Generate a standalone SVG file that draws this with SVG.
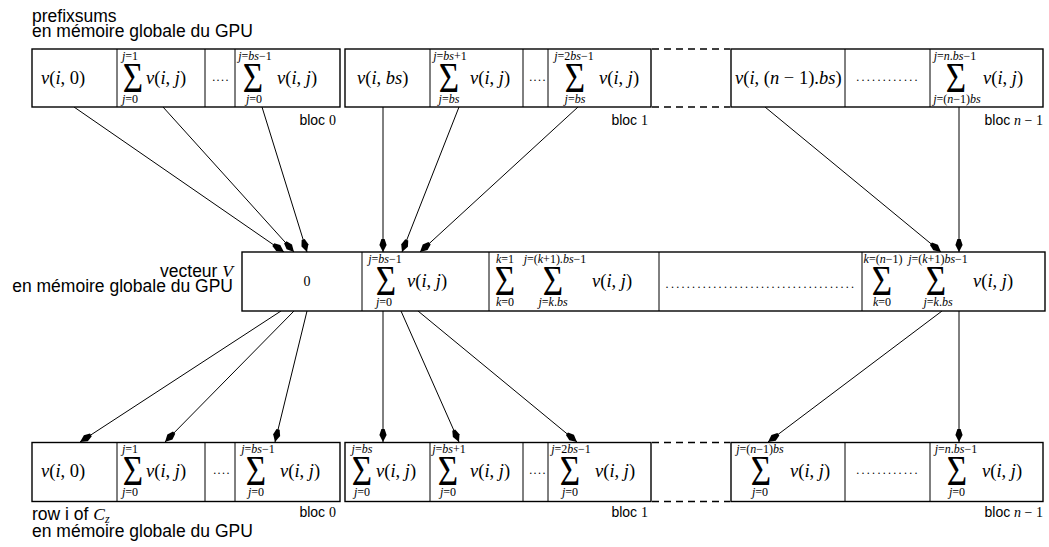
<svg xmlns="http://www.w3.org/2000/svg" width="1049" height="547" viewBox="0 0 1049 547">
<style>
.box{fill:#fff;stroke:#000;stroke-width:1.4}
.dv{stroke:#000;stroke-width:1;fill:none}
.dash{stroke:#000;stroke-width:1.4;stroke-dasharray:7 5;fill:none}
.lbl{font-family:"Liberation Sans",Arial,sans-serif;font-size:17.5px}
.blc{font-family:"Liberation Sans",Arial,sans-serif;font-size:14px;text-anchor:end}
.sf{font-family:"Liberation Serif","Times New Roman",serif}
.m{font-family:"Liberation Serif","Times New Roman",serif;font-size:18.5px}
.lim{font-family:"Liberation Serif","Times New Roman",serif;font-size:12px;text-anchor:middle}
.sig{font-family:"Liberation Serif","Times New Roman",serif;font-size:38px;text-anchor:middle}
.dots{font-family:"Liberation Serif","Times New Roman",serif;font-size:12px;text-anchor:middle;letter-spacing:2.3px}
.i{font-style:italic}
.con{stroke:#000;stroke-width:1;fill:none;marker-end:url(#ah)}
</style>
<defs>
<marker id="ah" markerUnits="userSpaceOnUse" viewBox="-14 -5 14 10" refX="0" refY="0" markerWidth="14" markerHeight="10" orient="auto">
<path d="M0,0 L-7,-3.6 L-13,-1.6 L-13,1.6 L-7,3.6 Z" fill="#000"/>
</marker>
</defs>

<g id="labels">
<text class="lbl" x="32" y="22">prefixsums</text>
<text class="lbl" x="32" y="37">en mémoire globale du GPU</text>
<text class="lbl" x="233" y="277" text-anchor="end">vecteur <tspan class="sf i">V</tspan></text>
<text class="lbl" x="233" y="292" text-anchor="end">en mémoire globale du GPU</text>
<text class="lbl" x="32" y="520">row i of <tspan class="sf i">C</tspan><tspan class="sf i" font-size="12" dy="3">z</tspan></text>
<text class="lbl" x="32" y="537">en mémoire globale du GPU</text>
<text class="blc" x="336" y="125">bloc <tspan class="sf">0</tspan></text>
<text class="blc" x="648" y="125">bloc <tspan class="sf">1</tspan></text>
<text class="blc" x="1043" y="125">bloc <tspan class="sf i">n</tspan><tspan class="sf"> − 1</tspan></text>
<text class="blc" x="336" y="517">bloc <tspan class="sf">0</tspan></text>
<text class="blc" x="648" y="517">bloc <tspan class="sf">1</tspan></text>
<text class="blc" x="1043" y="517">bloc <tspan class="sf i">n</tspan><tspan class="sf"> − 1</tspan></text>
</g>

<g id="connectors">
<line class="con" x1="74" y1="107" x2="284" y2="252"/>
<line class="con" x1="163" y1="107" x2="294" y2="252"/>
<line class="con" x1="262" y1="107" x2="307" y2="252"/>
<line class="con" x1="383" y1="107" x2="383" y2="252"/>
<line class="con" x1="459" y1="107" x2="402" y2="252"/>
<line class="con" x1="578" y1="107" x2="420" y2="252"/>
<line class="con" x1="765" y1="107" x2="941" y2="252"/>
<line class="con" x1="959" y1="107" x2="959" y2="252"/>
<line class="con" x1="281" y1="311" x2="80" y2="442"/>
<line class="con" x1="294" y1="311" x2="165" y2="442"/>
<line class="con" x1="307" y1="311" x2="275" y2="442"/>
<line class="con" x1="383" y1="311" x2="383" y2="442"/>
<line class="con" x1="401" y1="311" x2="459" y2="442"/>
<line class="con" x1="418" y1="311" x2="577" y2="442"/>
<line class="con" x1="942" y1="311" x2="768" y2="442"/>
<line class="con" x1="959" y1="311" x2="959" y2="442"/>
</g>

<g id="dashes">
<line class="dash" x1="652" y1="49" x2="730" y2="49"/>
<line class="dash" x1="652" y1="107" x2="730" y2="107"/>
<line class="dash" x1="652" y1="442.5" x2="730" y2="442.5"/>
<line class="dash" x1="652" y1="501.5" x2="730" y2="501.5"/>
</g>

<g id="top-bloc0">
<rect class="box" x="32" y="49" width="308" height="58"/>
<path class="dv" d="M117,49V107M205,49V107M235,49V107"/>
<text class="m" x="41" y="84"><tspan class="i">v</tspan>(<tspan class="i">i</tspan>, 0)</text>
<text class="lim" x="130" y="60"><tspan class="i">j</tspan>=1</text>
<text class="sig" transform="translate(133,92) scale(.92,1.1)">Σ</text>
<text class="lim" x="130" y="103"><tspan class="i">j</tspan>=0</text>
<text class="m" x="146" y="84"><tspan class="i">v</tspan>(<tspan class="i">i</tspan>, <tspan class="i">j</tspan>)</text>
<text class="dots" x="221" y="81" style="letter-spacing:1.4px">....</text>
<text class="lim" x="255" y="60"><tspan class="i">j</tspan>=<tspan class="i">bs</tspan>−1</text>
<text class="sig" transform="translate(253,92) scale(.92,1.1)">Σ</text>
<text class="lim" x="254" y="103"><tspan class="i">j</tspan>=0</text>
<text class="m" x="277" y="84"><tspan class="i">v</tspan>(<tspan class="i">i</tspan>, <tspan class="i">j</tspan>)</text>
</g>

<g id="top-bloc1">
<rect class="box" x="345" y="49" width="306" height="58"/>
<path class="dv" d="M430,49V107M523,49V107M548,49V107"/>
<text class="m" x="357" y="84"><tspan class="i">v</tspan>(<tspan class="i">i</tspan>, <tspan class="i">bs</tspan>)</text>
<text class="lim" x="450" y="60"><tspan class="i">j</tspan>=<tspan class="i">bs</tspan>+1</text>
<text class="sig" transform="translate(449,92) scale(.92,1.1)">Σ</text>
<text class="lim" x="449" y="103"><tspan class="i">j</tspan>=<tspan class="i">bs</tspan></text>
<text class="m" x="470" y="84"><tspan class="i">v</tspan>(<tspan class="i">i</tspan>, <tspan class="i">j</tspan>)</text>
<text class="dots" x="538" y="81" style="letter-spacing:1.4px">....</text>
<text class="lim" x="574" y="60"><tspan class="i">j</tspan>=2<tspan class="i">bs</tspan>−1</text>
<text class="sig" transform="translate(575,92) scale(.92,1.1)">Σ</text>
<text class="lim" x="575" y="103"><tspan class="i">j</tspan>=<tspan class="i">bs</tspan></text>
<text class="m" x="599" y="84"><tspan class="i">v</tspan>(<tspan class="i">i</tspan>, <tspan class="i">j</tspan>)</text>
</g>

<g id="top-bloc-n1">
<rect class="box" x="731" y="49" width="312" height="58"/>
<path class="dv" d="M845,49V107M930,49V107"/>
<text class="m" x="735" y="84"><tspan class="i">v</tspan>(<tspan class="i">i</tspan>, (<tspan class="i">n</tspan> − 1).<tspan class="i">bs</tspan>)</text>
<text class="dots" x="888" y="81">............</text>
<text class="lim" x="955" y="60"><tspan class="i">j</tspan>=<tspan class="i">n</tspan>.<tspan class="i">bs</tspan>−1</text>
<text class="sig" transform="translate(956,92) scale(.92,1.1)">Σ</text>
<text class="lim" x="957" y="103"><tspan class="i">j</tspan>=(<tspan class="i">n</tspan>−1)<tspan class="i">bs</tspan></text>
<text class="m" x="983" y="84"><tspan class="i">v</tspan>(<tspan class="i">i</tspan>, <tspan class="i">j</tspan>)</text>
</g>

<g id="vecteur-V">
<rect class="box" x="242" y="252" width="803" height="59"/>
<path class="dv" d="M362,252V311M489,252V311M659,252V311M862,252V311"/>
<text class="sf" x="307" y="286" font-size="14" text-anchor="middle">0</text>
<text class="lim" x="385" y="263"><tspan class="i">j</tspan>=<tspan class="i">bs</tspan>−1</text>
<text class="sig" transform="translate(386,295) scale(.92,1.1)">Σ</text>
<text class="lim" x="384" y="306"><tspan class="i">j</tspan>=0</text>
<text class="m" x="407" y="287"><tspan class="i">v</tspan>(<tspan class="i">i</tspan>, <tspan class="i">j</tspan>)</text>
<text class="lim" x="505" y="263"><tspan class="i">k</tspan>=1</text>
<text class="lim" x="555" y="263"><tspan class="i">j</tspan>=(<tspan class="i">k</tspan>+1).<tspan class="i">bs</tspan>−1</text>
<text class="sig" transform="translate(505,295) scale(.92,1.1)">Σ</text>
<text class="sig" transform="translate(553,295) scale(.92,1.1)">Σ</text>
<text class="lim" x="505" y="306"><tspan class="i">k</tspan>=0</text>
<text class="lim" x="553" y="306"><tspan class="i">j</tspan>=<tspan class="i">k</tspan>.<tspan class="i">bs</tspan></text>
<text class="m" x="592" y="287"><tspan class="i">v</tspan>(<tspan class="i">i</tspan>, <tspan class="i">j</tspan>)</text>
<text class="dots" x="761" y="288">....................................</text>
<text class="lim" x="883" y="263"><tspan class="i">k</tspan>=(<tspan class="i">n</tspan>−1)</text>
<text class="lim" x="938" y="263"><tspan class="i">j</tspan>=(<tspan class="i">k</tspan>+1)<tspan class="i">bs</tspan>−1</text>
<text class="sig" transform="translate(882,295) scale(.92,1.1)">Σ</text>
<text class="sig" transform="translate(936,295) scale(.92,1.1)">Σ</text>
<text class="lim" x="882" y="306"><tspan class="i">k</tspan>=0</text>
<text class="lim" x="938" y="306"><tspan class="i">j</tspan>=<tspan class="i">k</tspan>.<tspan class="i">bs</tspan></text>
<text class="m" x="973" y="287"><tspan class="i">v</tspan>(<tspan class="i">i</tspan>, <tspan class="i">j</tspan>)</text>
</g>

<g id="bottom-bloc0">
<rect class="box" x="32" y="442.5" width="308" height="59"/>
<path class="dv" d="M117,442.5V501.5M205,442.5V501.5M235,442.5V501.5"/>
<text class="m" x="41" y="477"><tspan class="i">v</tspan>(<tspan class="i">i</tspan>, 0)</text>
<text class="lim" x="130" y="453"><tspan class="i">j</tspan>=1</text>
<text class="sig" transform="translate(133,485) scale(.92,1.1)">Σ</text>
<text class="lim" x="130" y="496"><tspan class="i">j</tspan>=0</text>
<text class="m" x="146" y="477"><tspan class="i">v</tspan>(<tspan class="i">i</tspan>, <tspan class="i">j</tspan>)</text>
<text class="dots" x="222" y="474" style="letter-spacing:1.4px">....</text>
<text class="lim" x="258" y="453"><tspan class="i">j</tspan>=<tspan class="i">bs</tspan>−1</text>
<text class="sig" transform="translate(256,485) scale(.92,1.1)">Σ</text>
<text class="lim" x="256" y="496"><tspan class="i">j</tspan>=0</text>
<text class="m" x="280" y="477"><tspan class="i">v</tspan>(<tspan class="i">i</tspan>, <tspan class="i">j</tspan>)</text>
</g>

<g id="bottom-bloc1">
<rect class="box" x="345" y="442.5" width="306" height="59"/>
<path class="dv" d="M430,442.5V501.5M523,442.5V501.5M548,442.5V501.5"/>
<text class="lim" x="362" y="453"><tspan class="i">j</tspan>=<tspan class="i">bs</tspan></text>
<text class="sig" transform="translate(362,485) scale(.92,1.1)">Σ</text>
<text class="lim" x="362" y="496"><tspan class="i">j</tspan>=0</text>
<text class="m" x="376" y="477"><tspan class="i">v</tspan>(<tspan class="i">i</tspan>, <tspan class="i">j</tspan>)</text>
<text class="lim" x="449" y="453"><tspan class="i">j</tspan>=<tspan class="i">bs</tspan>+1</text>
<text class="sig" transform="translate(448,485) scale(.92,1.1)">Σ</text>
<text class="lim" x="448" y="496"><tspan class="i">j</tspan>=0</text>
<text class="m" x="470" y="477"><tspan class="i">v</tspan>(<tspan class="i">i</tspan>, <tspan class="i">j</tspan>)</text>
<text class="dots" x="538" y="474" style="letter-spacing:1.4px">....</text>
<text class="lim" x="571" y="453"><tspan class="i">j</tspan>=2<tspan class="i">bs</tspan>−1</text>
<text class="sig" transform="translate(570,485) scale(.92,1.1)">Σ</text>
<text class="lim" x="570" y="496"><tspan class="i">j</tspan>=0</text>
<text class="m" x="595" y="477"><tspan class="i">v</tspan>(<tspan class="i">i</tspan>, <tspan class="i">j</tspan>)</text>
</g>

<g id="bottom-bloc-n1">
<rect class="box" x="731" y="442.5" width="312" height="59"/>
<path class="dv" d="M845,442.5V501.5M930,442.5V501.5"/>
<text class="lim" x="760" y="453"><tspan class="i">j</tspan>=(<tspan class="i">n</tspan>−1)<tspan class="i">bs</tspan></text>
<text class="sig" transform="translate(761,485) scale(.92,1.1)">Σ</text>
<text class="lim" x="760" y="496"><tspan class="i">j</tspan>=0</text>
<text class="m" x="790" y="477"><tspan class="i">v</tspan>(<tspan class="i">i</tspan>, <tspan class="i">j</tspan>)</text>
<text class="dots" x="888" y="474">............</text>
<text class="lim" x="956" y="453"><tspan class="i">j</tspan>=<tspan class="i">n</tspan>.<tspan class="i">bs</tspan>−1</text>
<text class="sig" transform="translate(957,485) scale(.92,1.1)">Σ</text>
<text class="lim" x="957" y="496"><tspan class="i">j</tspan>=0</text>
<text class="m" x="982" y="477"><tspan class="i">v</tspan>(<tspan class="i">i</tspan>, <tspan class="i">j</tspan>)</text>
</g>
</svg>
